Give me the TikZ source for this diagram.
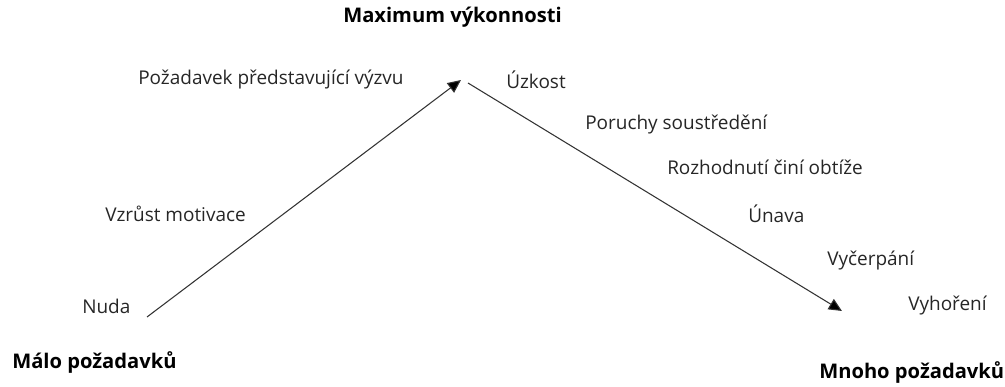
\documentclass[tikz,border=0pt]{standalone}
\usepackage{fontspec}
\setmainfont{Open Sans}
\usetikzlibrary{arrows.meta}
\tikzstyle{stage} = [anchor=west, inner sep=0pt, font=\fontsize{14.3}{16}\selectfont, text=black!85]
\tikzstyle{axis} = [anchor=west, inner sep=0pt, font=\fontsize{15.2}{17}\selectfont\bfseries]
\tikzstyle{arrow} = [draw=black!80, line width=0.8pt, -{Triangle[length=10pt,width=9pt,fill=black]}]

\begin{document}
\begin{tikzpicture}[x=0.0265cm, y=-0.0265cm]
		\useasboundingbox (0,0) rectangle (1005,387);

		\node (peak) [axis] at (343,17) {Maximum výkonnosti};
		\node (few) [axis] at (12,362) {Málo požadavků};
		\node (many) [axis] at (819,372) {Mnoho požadavků};

		\node (challenge) [stage] at (138,80) {Požadavek představující výzvu};
		\node (motiv) [stage] at (105,214) {Vzrůst motivace};
		\node (bored) [stage] at (82,306) {Nuda};

		\node (anxiety) [stage] at (506,80) {Úzkost};
		\node (focus) [stage] at (585,125) {Poruchy soustředění};
		\node (decide) [stage] at (667,167) {Rozhodnutí činí obtíže};
		\node (tired) [stage] at (748,214) {Únava};
		\node (exhaust) [stage] at (827,261) {Vyčerpání};
		\node (burnout) [stage] at (908,306) {Vyhoření};

		\coordinate (low) at (147,317);
		\coordinate (top) at (461,80);
		\coordinate (fall) at (468,83);
		\coordinate (end) at (842,311);

		\draw [arrow] (low) -- (top);
		\draw [arrow] (fall) -- (end);

	\end{tikzpicture}
\end{document}
